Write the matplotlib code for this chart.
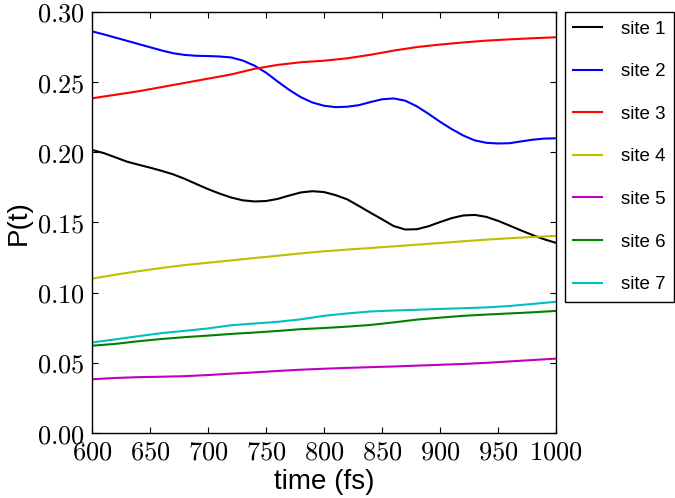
import matplotlib
matplotlib.use("Agg")
import matplotlib.pyplot as plt
from matplotlib.ticker import FuncFormatter, MultipleLocator

plt.rcParams['mathtext.fontset'] = 'cm'

# fine time grid for the oscillating sites 1 and 2
time_fine = list(range(600, 1001, 10))
site1 = [0.2017, 0.1995, 0.1965, 0.1934, 0.1912, 0.1891, 0.1868, 0.1843, 0.1811, 0.1774,
         0.1738, 0.1706, 0.1678, 0.1658, 0.1650, 0.1653, 0.1668, 0.1692, 0.1714, 0.1723,
         0.1717, 0.1695, 0.1665, 0.1618, 0.1570, 0.1523, 0.1475, 0.1450, 0.1452, 0.1473,
         0.1503, 0.1531, 0.1550, 0.1554, 0.1540, 0.1512, 0.1478, 0.1443, 0.1410, 0.1380,
         0.1355]
site2 = [0.2862, 0.2841, 0.2818, 0.2795, 0.2772, 0.2749, 0.2726, 0.2706, 0.2694, 0.2688,
         0.2686, 0.2683, 0.2676, 0.2654, 0.2618, 0.2568, 0.2505, 0.2445, 0.2393, 0.2355,
         0.2332, 0.2322, 0.2325, 0.2336, 0.2358, 0.2378, 0.2384, 0.2368, 0.2328, 0.2275,
         0.2218, 0.2166, 0.2120, 0.2085, 0.2068, 0.2063, 0.2065, 0.2078, 0.2090, 0.2098,
         0.2100]

# coarser time grid for the smooth sites 3-7
time_fs = [600, 620, 640, 660, 680, 700, 720, 740, 760, 780, 800,
           820, 840, 860, 880, 900, 920, 940, 960, 980, 1000]
site3 = [0.2385, 0.2410, 0.2435, 0.2465, 0.2495, 0.2525, 0.2555, 0.2595, 0.2623, 0.2642, 0.2653,
         0.2670, 0.2695, 0.2725, 0.2750, 0.2768, 0.2783, 0.2796, 0.2805, 0.2813, 0.2820]
site4 = [0.1100, 0.1128, 0.1153, 0.1176, 0.1197, 0.1213, 0.1230, 0.1247, 0.1263, 0.1280, 0.1295,
         0.1307, 0.1318, 0.1330, 0.1342, 0.1354, 0.1366, 0.1378, 0.1388, 0.1397, 0.1405]
site5 = [0.0383, 0.0392, 0.0398, 0.0401, 0.0405, 0.0413, 0.0423, 0.0432, 0.0442, 0.0451, 0.0458,
         0.0464, 0.0469, 0.0474, 0.0480, 0.0486, 0.0492, 0.0500, 0.0510, 0.0520, 0.0530]
site6 = [0.0622, 0.0635, 0.0654, 0.0670, 0.0683, 0.0694, 0.0706, 0.0716, 0.0727, 0.0740, 0.0748,
         0.0758, 0.0770, 0.0788, 0.0808, 0.0822, 0.0835, 0.0844, 0.0852, 0.0860, 0.0870]
site7 = [0.0645, 0.0667, 0.0690, 0.0712, 0.0728, 0.0745, 0.0768, 0.0780, 0.0792, 0.0810, 0.0835,
         0.0852, 0.0866, 0.0873, 0.0878, 0.0884, 0.0889, 0.0895, 0.0905, 0.0920, 0.0935]

labels = ["site 1", "site 2", "site 3", "site 4", "site 5", "site 6", "site 7"]
colors = ["k", "b", "r", (0.75, 0.75, 0), (0.75, 0, 0.75), (0, 0.5, 0), (0, 0.75, 0.75)]
times = [time_fine, time_fine, time_fs, time_fs, time_fs, time_fs, time_fs]
series = [site1, site2, site3, site4, site5, site6, site7]

fig = plt.figure(figsize=(6.75, 4.98), dpi=100)
ax = fig.add_axes([92/675, 65/498, 464/675, 421/498])

for t, s, c, l in zip(times, series, colors, labels):
    ax.plot(t, s, color=c, lw=1.5, label=l)

ax.set_xlim(600, 1000)
ax.set_ylim(0.0, 0.30)
ax.xaxis.set_major_locator(MultipleLocator(50))
ax.yaxis.set_major_locator(MultipleLocator(0.05))
ax.xaxis.set_major_formatter(FuncFormatter(lambda v, p: r'$%d$' % round(v)))
ax.yaxis.set_major_formatter(FuncFormatter(lambda v, p: r'$%.2f$' % v))
ax.tick_params(direction='in', length=4, width=0.8, top=True, right=True,
               labelsize=19, pad=5)
for sp in ax.spines.values():
    sp.set_linewidth(1.0)

ax.set_xlabel("time (fs)", fontsize=20, family="Liberation Sans", labelpad=2)
ax.set_ylabel("P(t)", fontsize=20, family="Liberation Sans", labelpad=4)

leg = fig.legend(loc='upper left', bbox_to_anchor=(565/675, 486/498),
                 borderaxespad=0, prop={'family': 'Liberation Sans', 'size': 13.5},
                 handlelength=1.5, handletextpad=1.05, labelspacing=1.36,
                 borderpad=0.45, fancybox=False, framealpha=1)
leg.get_frame().set_edgecolor('k')
leg.get_frame().set_linewidth(1.0)

fig.savefig("out.png", dpi=100)
